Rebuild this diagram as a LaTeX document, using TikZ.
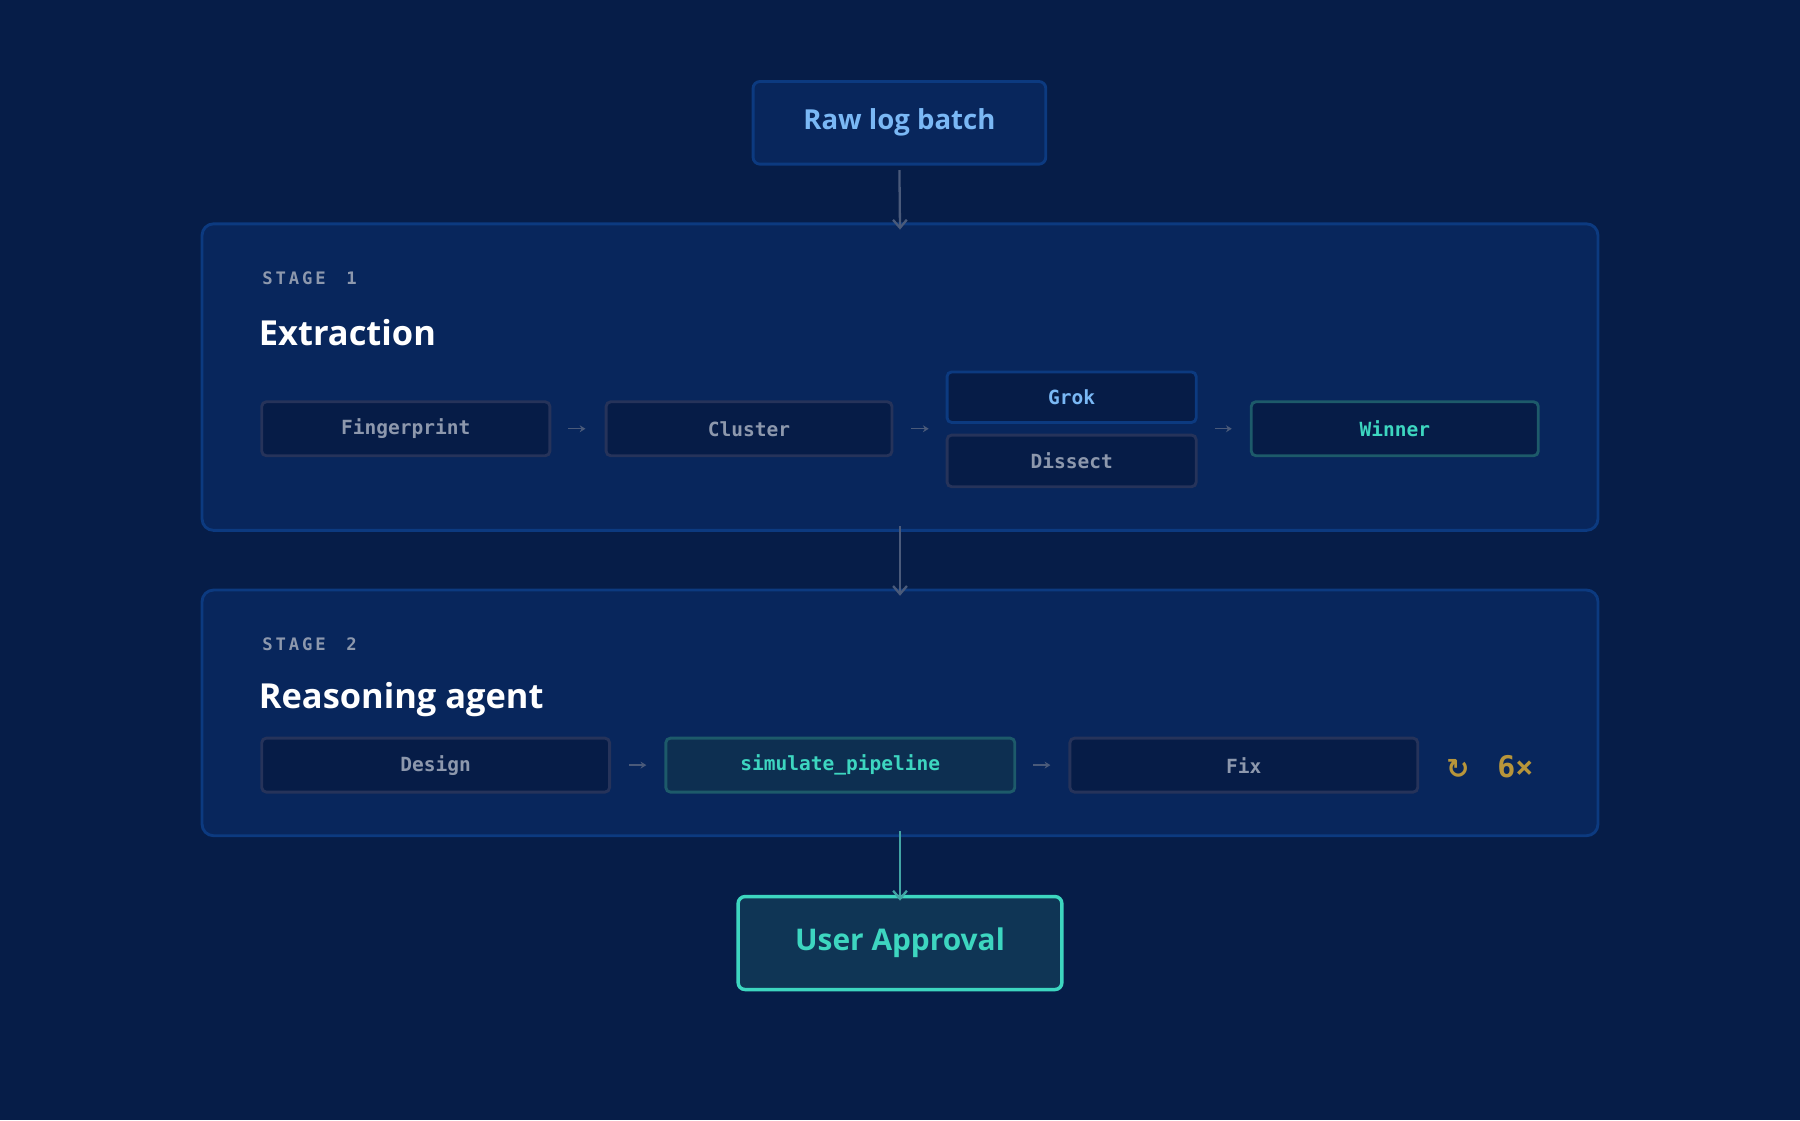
\documentclass[tikz,border=0pt]{standalone}
\usepackage{fontspec}
\setmainfont{Open Sans}
\setmonofont{DejaVu Sans Mono}
\newfontfamily\symf{DejaVu Sans}
\usetikzlibrary{arrows.meta}
\definecolor{bg}{HTML}{061D48}
\definecolor{panel}{HTML}{08265C}
\definecolor{panelb}{HTML}{0C3A80}
\definecolor{boxf}{HTML}{061C47}
\definecolor{boxb}{HTML}{26335A}
\definecolor{gtext}{HTML}{8D98AD}
\definecolor{teal}{HTML}{3DD6C0}
\definecolor{tealb}{HTML}{1D5A6A}
\definecolor{blue}{HTML}{7AB8F5}
\definecolor{gold}{HTML}{B8953A}
\definecolor{arr}{HTML}{4A5A7A}
\begin{document}
\begin{tikzpicture}[x=1pt,y=-1pt,
 panel/.style={draw=panelb,fill=panel,line width=2.5pt,rounded corners=10pt},
 stp/.style={draw=boxb,fill=boxf,line width=2.5pt,rounded corners=4pt,font=\ttfamily\bfseries\fontsize{17}{20}\selectfont,text=gtext},
 sm/.style={-{Stealth[length=5pt,width=6pt]},arr,line width=1.2pt},
 big/.style={-{Straight Barb[length=7pt,width=12pt]},arr,line width=2pt},
 lbl/.style={font=\ttfamily\bfseries\fontsize{15}{18}\selectfont,text=gtext,anchor=west},
 ttl/.style={font=\bfseries\fontsize{30}{34}\selectfont,text=white,anchor=west}]
\fill[bg] (0,0) rectangle (1568,976);
\node[draw=panelb,fill=panel,line width=2.5pt,rounded corners=6pt,minimum width=255pt,minimum height=72pt,font=\bfseries\fontsize{24}{28}\selectfont,text=blue] (raw) at (783.5,107) {Raw log batch};
\draw[panel] (176,195) rectangle (1392,462);
\node[coordinate] (s1t) at (784,195) {};
\node[coordinate] (s1b) at (784,462) {};
\node[lbl] (st1) at (225,242) {S\,T\,A\,G\,E\ \ 1};
\node[ttl] (ex) at (222,290) {Extraction};
\node[stp,minimum width=251pt,minimum height=47pt] (fp) at (353.5,373.5) {Fingerprint};
\node[stp,minimum width=249pt,minimum height=47pt] (cl) at (652.5,373.5) {Cluster};
\node[stp,draw=panelb,text=blue,minimum width=217pt,minimum height=44pt] (gr) at (933.5,346) {Grok};
\node[stp,minimum width=217pt,minimum height=45pt] (di) at (933.5,401.5) {Dissect};
\node[stp,draw=tealb,text=teal,minimum width=250pt,minimum height=47pt] (wi) at (1215,373.5) {Winner};
\draw[sm] (495,373.5) -- (510,373.5);
\draw[sm] (794,373.5) -- (809,373.5);
\draw[sm] (1058,373.5) -- (1073,373.5);
\draw[panel] (176,514) rectangle (1392,728);
\node[coordinate] (s2t) at (784,514) {};
\node[coordinate] (s2b) at (784,728) {};
\node[lbl] (st2) at (225,561) {S\,T\,A\,G\,E\ \ 2};
\node[ttl] (ra) at (222,609) {Reasoning agent};
\node[stp,minimum width=303pt,minimum height=47pt] (de) at (379.5,666.5) {Design};
\node[stp,draw=tealb,fill=boxf!70!tealb,text=teal,minimum width=304pt,minimum height=47pt] (sp) at (732,666.5) {simulate\_pipeline};
\node[stp,minimum width=303pt,minimum height=47pt] (fx) at (1083.5,666.5) {Fix};
\draw[sm] (548,666.5) -- (563,666.5);
\draw[sm] (900,666.5) -- (915,666.5);
\node[text=gold,font=\symf\bfseries\fontsize{24}{28}\selectfont] (lp) at (1270,670) {↻};
\node[text=gold,font=\ttfamily\bfseries\fontsize{26}{30}\selectfont] (sx) at (1320,668) {6×};
\node[draw=teal,fill=boxf!60!tealb,line width=3pt,rounded corners=6pt,minimum width=282pt,minimum height=81pt,font=\bfseries\fontsize{26}{30}\selectfont,text=teal] (ua) at (784,821.5) {User Approval};
\draw[big] ([yshift=-4pt]raw.south) -- ([yshift=-5pt]s1t);
\draw[big] ([yshift=4pt]s1b) -- ([yshift=-5pt]s2t);
\draw[big,draw=teal!60!arr] ([yshift=4pt]s2b) -- ([yshift=-5pt]ua.north);
\end{tikzpicture}
\end{document}
